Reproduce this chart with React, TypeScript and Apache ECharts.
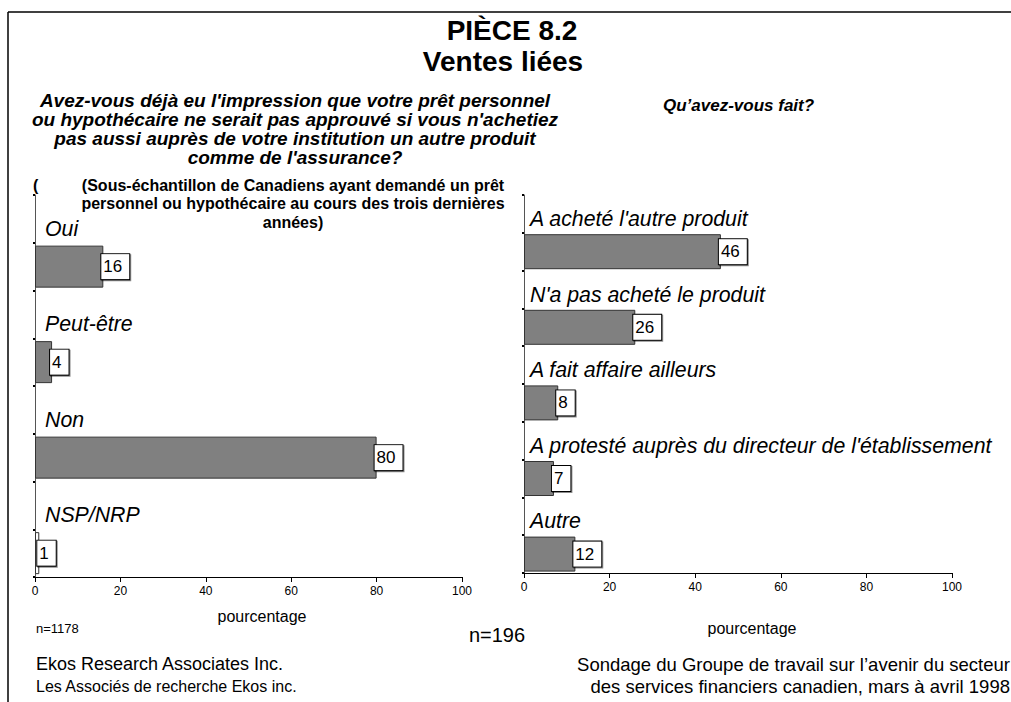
import React, { useEffect, useRef } from "react";
import * as echarts from "echarts";

const categoriesLeft = ["Oui", "Peut-être", "Non", "NSP/NRP"];
const valuesLeft = [16, 4, 80, 1];
const hollowLeft = [false, false, false, true];

const categoriesRight = [
  "A acheté l'autre produit",
  "N'a pas acheté le produit",
  "A fait affaire ailleurs",
  "A protesté auprès du directeur de l'établissement",
  "Autre",
];
const valuesRight = [46, 26, 8, 7, 12];

const xMin = 0;
const xMax = 100;
const xStep = 20;

const titleLines = ["PIÈCE 8.2", "Ventes liées"];
const questionLeft = [
  "Avez-vous déjà eu l'impression que votre prêt personnel",
  "ou hypothécaire ne serait pas approuvé si vous n'achetiez",
  "pas aussi auprès de votre institution un autre produit",
  "comme de l'assurance?",
];
const subNote = [
  "(Sous-échantillon de Canadiens ayant demandé un prêt",
  "personnel ou hypothécaire au cours des trois dernières",
  "années)",
];
const questionRight = "Qu’avez-vous fait?";
const axisTitle = "pourcentage";
const nLeft = "n=1178";
const nRight = "n=196";
const footerLeft = ["Ekos Research Associates Inc.", "Les Associés de recherche Ekos inc."];
const footerRight = [
  "Sondage du Groupe de travail sur l’avenir du secteur",
  "des services financiers canadien, mars à avril 1998",
];

const FONT = "'Liberation Sans', Arial, Helvetica, sans-serif";

function rows(cats: string[]) {
  return cats.flatMap((c) => [c, c + " "]);
}

function barData(vals: number[], hollow?: boolean[]) {
  return vals.flatMap((v, i) => [
    "-",
    hollow && hollow[i]
      ? { value: v, itemStyle: { color: "#ffffff" } }
      : v,
  ]);
}

const valueLabel = {
  show: true,
  position: "right",
  distance: -2,
  formatter: "{c}",
  fontSize: 17,
  fontFamily: FONT,
  color: "#000",
  backgroundColor: "#fff",
  borderColor: "#000",
  borderWidth: 1,
  padding: [4, 7, 4, 2],
  shadowColor: "rgba(0,0,0,0.45)",
  shadowOffsetX: 1,
  shadowOffsetY: 1,
  shadowBlur: 0,
};

function catAxis(gridIndex: number, cats: string[], lineHeight: number, margin: number) {
  return {
    gridIndex,
    type: "category",
    inverse: true,
    data: rows(cats),
    axisLine: { show: true, lineStyle: { color: "#555", width: 1 } },
    axisTick: { show: true, interval: 0, length: 2, lineStyle: { color: "#000", width: 2 } },
    axisLabel: {
      inside: true,
      interval: 0,
      margin,
      formatter: (v: string, i: number) => (i % 2 === 0 ? v : ""),
      fontStyle: "italic",
      fontSize: 21.3,
      fontFamily: FONT,
      color: "#000",
      verticalAlign: "top",
      lineHeight,
    },
    splitLine: { show: false },
  };
}

function valAxis(gridIndex: number) {
  return {
    gridIndex,
    type: "value",
    min: xMin,
    max: xMax,
    interval: xStep,
    axisLine: { show: true, lineStyle: { color: "#000", width: 1 } },
    axisTick: { show: true, length: 5, lineStyle: { color: "#000" } },
    axisLabel: { fontSize: 12, fontFamily: FONT, color: "#000", margin: 8 },
    splitLine: { show: false },
  };
}

function txt(text: string, x: number, y: number, font: string, align = "left") {
  return {
    type: "text",
    x,
    y,
    style: {
      text,
      font,
      fill: "#000",
      textAlign: align,
      textVerticalAlign: "middle",
    },
  };
}

export default function App() {
  const ref = useRef<HTMLDivElement>(null);

  useEffect(() => {
    document.body.style.margin = "0";
    document.body.style.overflow = "hidden";
    const chart = echarts.init(ref.current!, undefined, { renderer: "svg" });

    const footerLeftSizes = [18, 16];
    const graphics: any[] = [
      { type: "line", shape: { x1: 8, y1: 12, x2: 1011, y2: 12 }, style: { stroke: "#000", lineWidth: 1.5 } },
      { type: "line", shape: { x1: 8, y1: 12, x2: 8, y2: 702 }, style: { stroke: "#000", lineWidth: 1.5 } },
      txt(titleLines[0], 512, 30, `bold 28px ${FONT}`, "center"),
      txt(titleLines[1], 503, 61, `bold 28px ${FONT}`, "center"),
      ...questionLeft.map((l, i) => txt(l, 295, 100 + i * 19, `italic bold 19px ${FONT}`, "center")),
      ...subNote.map((l, i) => txt(l, 293, 185 + i * 18.5, `bold 16px ${FONT}`, "center")),
      txt("(", 33, 185, `bold 16px ${FONT}`),
      txt(questionRight, 663, 105, `italic bold 17px ${FONT}`),
      txt(axisTitle, 262, 616, `16px ${FONT}`, "center"),
      txt(axisTitle, 752, 628, `16px ${FONT}`, "center"),
      txt(nLeft, 36, 628, `13px ${FONT}`),
      txt(nRight, 497, 635, `20px ${FONT}`, "center"),
      ...footerLeft.map((l, i) => txt(l, 36, 664 + i * 22, `${footerLeftSizes[i]}px ${FONT}`)),
      ...footerRight.map((l, i) => txt(l, 1010, 664 + i * 22, `18.5px ${FONT}`, "right")),
    ];

    chart.setOption({
      animation: false,
      backgroundColor: "#fff",
      textStyle: { fontFamily: FONT },
      grid: [
        { left: 35, top: 195, width: 427, height: 382 },
        { left: 524, top: 195, width: 428, height: 378 },
      ],
      xAxis: [valAxis(0), valAxis(1)],
      yAxis: [catAxis(0, categoriesLeft, 20, 10), catAxis(1, categoriesRight, 10, 6)],
      series: [
        {
          type: "bar",
          xAxisIndex: 0,
          yAxisIndex: 0,
          barWidth: 42,
          data: barData(valuesLeft, hollowLeft),
          itemStyle: { color: "#808080", borderColor: "#333", borderWidth: 1 },
          label: valueLabel,
        },
        {
          type: "bar",
          xAxisIndex: 1,
          yAxisIndex: 1,
          barWidth: 35,
          data: barData(valuesRight),
          itemStyle: { color: "#808080", borderColor: "#333", borderWidth: 1 },
          label: valueLabel,
        },
      ],
      graphic: graphics,
    });

    return () => chart.dispose();
  }, []);

  return <div ref={ref} style={{ width: 1011, height: 702 }} />;
}
